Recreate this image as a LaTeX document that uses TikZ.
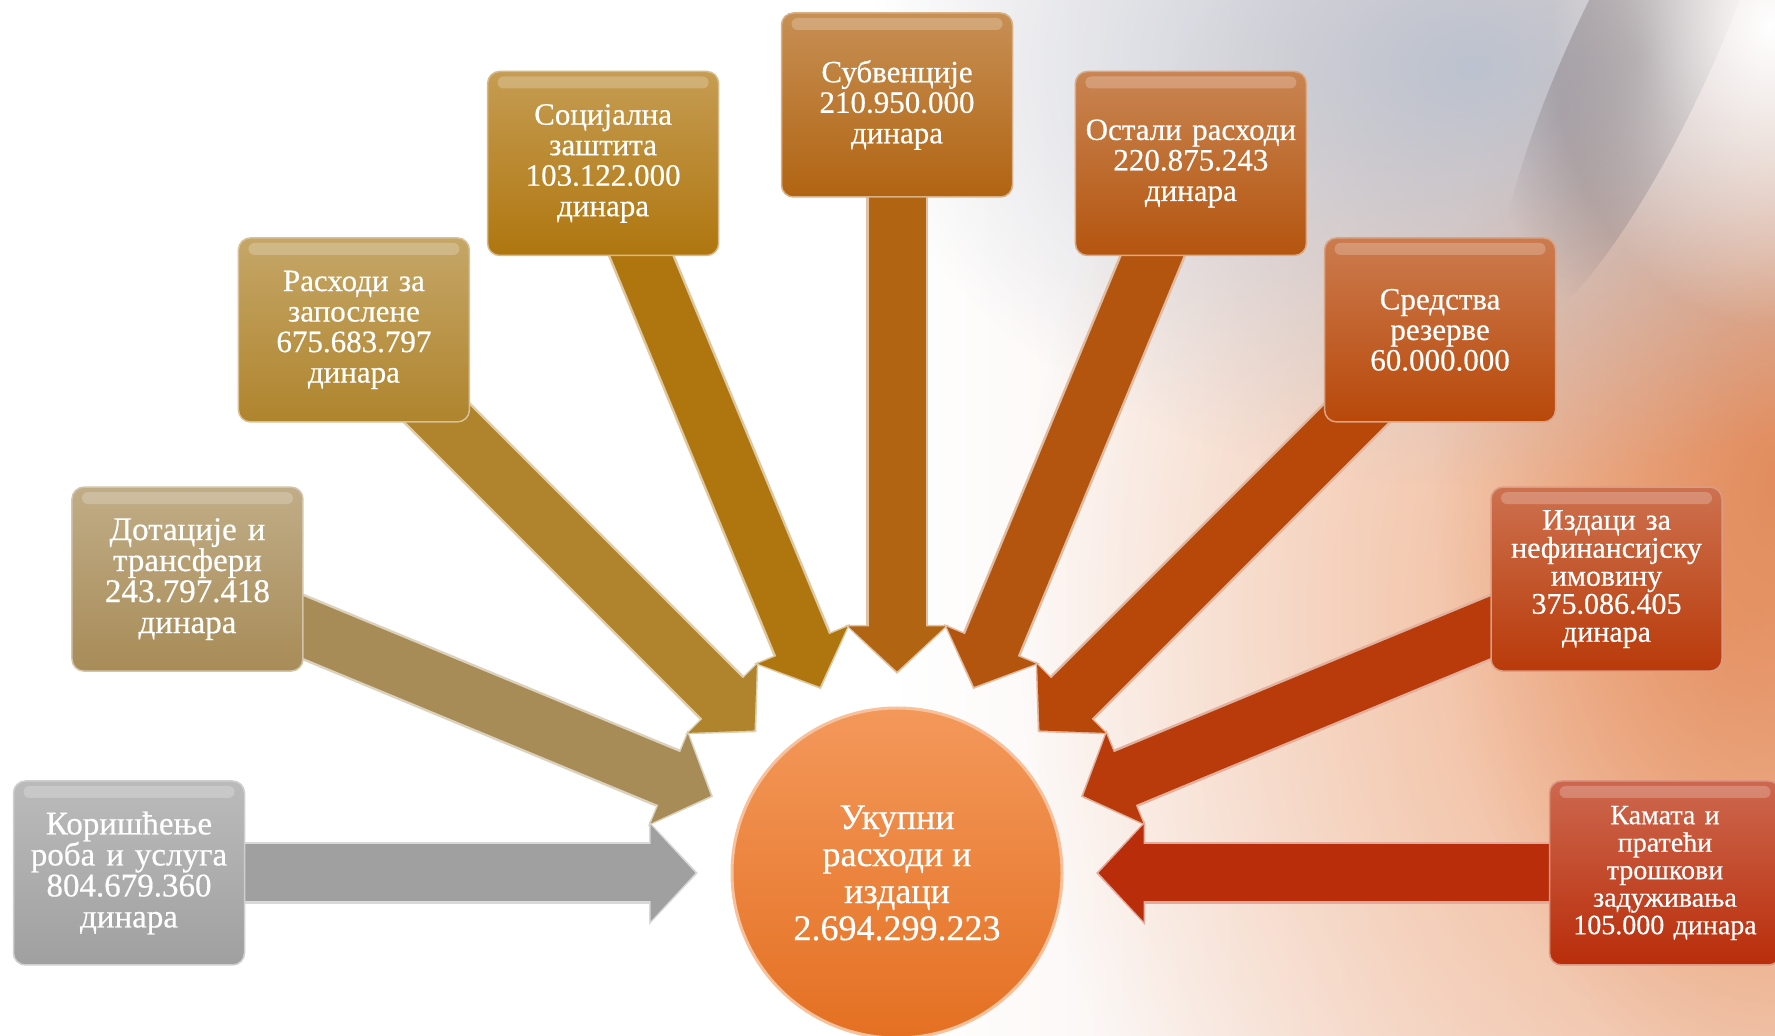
\documentclass[tikz,border=0pt]{standalone}
\usepackage{fontspec}
\setmainfont{Liberation Serif}[FakeBold=0.5]
\usetikzlibrary{arrows.meta,fadings,backgrounds}

\definecolor{cA}{RGB}{160,160,160}
\definecolor{cB}{RGB}{168,140,88}
\definecolor{cC}{RGB}{175,132,45}
\definecolor{cD}{RGB}{175,118,15}
\definecolor{cE}{RGB}{177,100,18}
\definecolor{cF}{RGB}{180,85,15}
\definecolor{cG}{RGB}{184,72,10}
\definecolor{cH}{RGB}{185,58,10}
\definecolor{cI}{RGB}{185,45,10}
\definecolor{corange}{RGB}{240,118,36}
\definecolor{bgpeach}{RGB}{242,176,136}
\definecolor{bgsteel}{RGB}{182,192,208}
\definecolor{bgsmoke}{RGB}{120,110,115}
\definecolor{bgrust}{RGB}{214,112,58}
\definecolor{bgblush}{RGB}{236,212,202}

\pgfdeclarehorizontalshading{bgwash}{100bp}{color(0bp)=(white); color(50bp)=(white); color(70bp)=(bgblush!60!white); color(100bp)=(bgpeach!70!white)}
\tikzfading[name=softblob, inner color=transparent!0, outer color=transparent!100]

\tikzset{
  tbox/.style={draw=#1!50!white, line width=1.5pt, rounded corners=12pt,
    top color=#1!72!white, bottom color=#1,
    minimum width=231pt, minimum height=184pt, text width=226pt,
    align=center, inner sep=0pt, text=white,
    font=\fontsize{31}{30.5}\selectfont,
    path picture={\fill[white, fill opacity=.22, rounded corners=6pt]
      ([xshift=10pt,yshift=-5pt]path picture bounding box.north west) rectangle
      ([xshift=-10pt,yshift=-17pt]path picture bounding box.north east);}},
  fatrim/.style={line width=62pt, draw=#1!40!white,
    -{Triangle[width=101pt,length=49pt]}},
  fatarrow/.style={line width=57pt, draw=#1, shorten >=2.5pt,
    -{Triangle[width=94pt,length=45pt]}},
}

\begin{document}
\begin{tikzpicture}[x=1pt,y=1pt]
  \useasboundingbox (0,0) rectangle (1775,1036);

  % background
  \begin{scope}[on background layer]
    \shade[shading=bgwash] (0,0) rectangle (1775,1036);
    \fill[bgpeach, path fading=softblob] (1720,420) ellipse [x radius=700, y radius=900];
    \fill[bgrust, fill opacity=.6, path fading=softblob] (1775,560) ellipse [x radius=340, y radius=640];
    \fill[bgsteel, fill opacity=.9, path fading=softblob] (1470,970) ellipse [x radius=600, y radius=420];
    \fill[bgsmoke, fill opacity=.8, path fading=softblob, rotate around={-25:(1640,980)}]
      (1640,980) ellipse [x radius=70, y radius=300];
    \fill[white, path fading=softblob] (1770,1010) ellipse [x radius=220, y radius=300];
  \end{scope}

  % centre
  \node[circle, minimum size=330pt, inner sep=0pt, draw=corange!45!white, line width=3pt,
    top color=corange!75!white, bottom color=corange!95!black, text=white, align=center,
    font=\fontsize{36}{37}\selectfont] (ukupno) at (897,163)
    {Укупни\\расходи и\\издаци\\2.694.299.223};

  % boxes
  \node[tbox=cA, font=\fontsize{33}{31}\selectfont] (koriscenje) at ([shift={(180:768)}]ukupno)
    {Коришћење\\роба и услуга\\804.679.360\\динара};
  \node[tbox=cB, font=\fontsize{33}{31}\selectfont] (dotacije) at ([shift={(157.5:768)}]ukupno)
    {Дотације и\\трансфери\\243.797.418\\динара};
  \node[tbox=cC] (zaposleni) at ([shift={(135:768)}]ukupno)
    {Расходи за\\запослене\\675.683.797\\динара};
  \node[tbox=cD] (socijalna) at ([shift={(112.5:768)}]ukupno)
    {Социјална\\заштита\\103.122.000\\динара};
  \node[tbox=cE] (subvencije) at ([shift={(90:768)}]ukupno)
    {Субвенције\\210.950.000\\динара};
  \node[tbox=cF] (ostali) at ([shift={(67.5:768)}]ukupno)
    {Остали расходи\\220.875.243\\динара};
  \node[tbox=cG] (rezerve) at ([shift={(45:768)}]ukupno)
    {Средства\\резерве\\60.000.000};
  \node[tbox=cH, font=\fontsize{30}{28}\selectfont] (imovina) at ([shift={(22.5:768)}]ukupno)
    {Издаци за\\нефинансијску\\имовину\\375.086.405\\динара};
  \node[tbox=cI, font=\fontsize{28}{27.5}\selectfont] (kamata) at ([shift={(0:768)}]ukupno)
    {Камата и\\пратећи\\трошкови\\задуживања\\105.000 динара};

  % arrow tips round the centre
  \coordinate (ta) at ([shift={(180:199)}]ukupno);
  \coordinate (tb) at ([shift={(157.5:199)}]ukupno);
  \coordinate (tc) at ([shift={(135:199)}]ukupno);
  \coordinate (td) at ([shift={(112.5:199)}]ukupno);
  \coordinate (te) at ([shift={(90:199)}]ukupno);
  \coordinate (tf) at ([shift={(67.5:199)}]ukupno);
  \coordinate (tg) at ([shift={(45:199)}]ukupno);
  \coordinate (th) at ([shift={(22.5:199)}]ukupno);
  \coordinate (ti) at ([shift={(0:199)}]ukupno);

  % arrows
  \begin{scope}[on background layer]
    \draw[fatrim=cA] (koriscenje.center) -- (ta); \draw[fatarrow=cA] (koriscenje.center) -- (ta);
    \draw[fatrim=cB] (dotacije.center) -- (tb);   \draw[fatarrow=cB] (dotacije.center) -- (tb);
    \draw[fatrim=cC] (zaposleni.center) -- (tc);  \draw[fatarrow=cC] (zaposleni.center) -- (tc);
    \draw[fatrim=cD] (socijalna.center) -- (td);  \draw[fatarrow=cD] (socijalna.center) -- (td);
    \draw[fatrim=cE] (subvencije.center) -- (te); \draw[fatarrow=cE] (subvencije.center) -- (te);
    \draw[fatrim=cF] (ostali.center) -- (tf);     \draw[fatarrow=cF] (ostali.center) -- (tf);
    \draw[fatrim=cG] (rezerve.center) -- (tg);    \draw[fatarrow=cG] (rezerve.center) -- (tg);
    \draw[fatrim=cH] (imovina.center) -- (th);    \draw[fatarrow=cH] (imovina.center) -- (th);
    \draw[fatrim=cI] (kamata.center) -- (ti);     \draw[fatarrow=cI] (kamata.center) -- (ti);
  \end{scope}
\end{tikzpicture}
\end{document}
